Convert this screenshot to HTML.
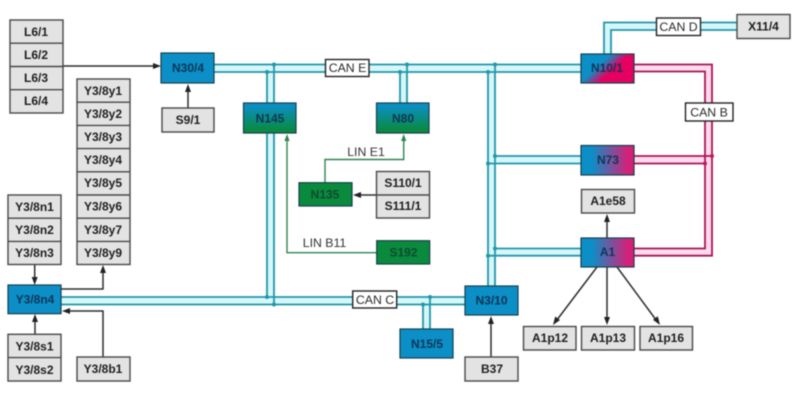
<!DOCTYPE html>
<html><head><meta charset="utf-8"><style>
html,body{margin:0;padding:0;background:#fff;width:800px;height:400px;overflow:hidden}
svg{display:block;filter:blur(0.45px)}
text{font-family:"Liberation Sans",sans-serif;text-anchor:middle;dominant-baseline:central}
.g rect{fill:#e3e3e3;stroke:#484848;stroke-width:1.4}
.g line{stroke:#484848;stroke-width:1.4}
.g text{font-size:12px;font-weight:bold;fill:#1e1e1e}
.n rect{stroke:#17404f;stroke-width:1.2}
.n text{font-size:12px;font-weight:bold;fill:#0e3558}
.l rect{fill:#fff;stroke:#222;stroke-width:1.4}
.l text{font-size:12.3px;fill:#2a2a2a}
.t{fill:none;stroke:#2296a8;stroke-width:1.8}
.p{fill:none;stroke:#a81558;stroke-width:1.8}
.gl{fill:none;stroke:#2f8450;stroke-width:1.4}
.k{fill:none;stroke:#2e2e2e;stroke-width:1.5}
.a{fill:#222}
.dt{fill:#2296a8}.dp{fill:#c8145f}
</style></head><body>
<svg width="800" height="400" viewBox="0 0 800 400" xmlns="http://www.w3.org/2000/svg">
<defs>
<linearGradient id="bg" x1="0" y1="0" x2="0" y2="1"><stop offset="0.1" stop-color="#0b8fc2"/><stop offset="0.9" stop-color="#0a8a42"/></linearGradient>
<linearGradient id="bp" x1="0" y1="0" x2="1" y2="0"><stop offset="0.2" stop-color="#0b8fc6"/><stop offset="0.9" stop-color="#d81f78"/></linearGradient>
<linearGradient id="dg" x1="0" y1="0" x2="1" y2="0.6"><stop offset="0.42" stop-color="#0b8fc6"/><stop offset="0.68" stop-color="#e6005f"/></linearGradient>
</defs>

<!-- bus fills -->
<g fill="#d6f7fa">
<rect x="214" y="64.5" width="367" height="7.5"/>
<rect x="61" y="297" width="404" height="7.5"/>
<rect x="267" y="72" width="7" height="225"/>
<rect x="400" y="72" width="7" height="31"/>
<rect x="488" y="72" width="7" height="214"/>
<rect x="495" y="156" width="86" height="7.5"/>
<rect x="495" y="248.5" width="86" height="7.5"/>
<rect x="423" y="304" width="7" height="25"/>
<rect x="604" y="22.5" width="7" height="31.5"/>
<rect x="611" y="22.5" width="126" height="7.5"/>
</g>
<g fill="#ffdcec">
<rect x="634" y="64.5" width="71" height="7"/>
<rect x="705" y="64.5" width="7" height="191"/>
<rect x="634" y="156" width="71" height="7.5"/>
<rect x="634" y="248.5" width="71" height="7.5"/>
</g>

<!-- CAN E -->
<path class="t" d="M214 64.5H581M214 72H581"/>
<!-- CAN C -->
<path class="t" d="M61 297H465M61 304.5H465"/>
<!-- verticals -->
<path class="t" d="M267 72V297M274 64.5V304.5M400 72V103M407 64.5V103M488 72V286M495 64.5V286"/>
<path class="t" d="M495 156H581M488 163.5H581M495 248.5H581M488 255.7H581"/>
<path class="t" d="M423 304.5V329M430 297V329"/>
<!-- CAN D -->
<path class="t" d="M604 54V22.5H737M611 54V30H737"/>
<!-- CAN B -->
<path class="p" d="M634 64.5H712V255.7H634M634 71.5H705V248.5H634M634 156H712M634 163.5H705"/>

<!-- dots -->
<g class="dt">
<circle cx="267" cy="72" r="2"/><circle cx="274" cy="64.5" r="2"/>
<circle cx="400" cy="72" r="2"/><circle cx="407" cy="64.5" r="2"/>
<circle cx="488" cy="72" r="2"/><circle cx="495" cy="64.5" r="2"/>
<circle cx="495" cy="156" r="2"/><circle cx="488" cy="163.5" r="2"/>
<circle cx="495" cy="248.5" r="2"/><circle cx="488" cy="255.7" r="2"/>
<circle cx="267" cy="297" r="2"/><circle cx="274" cy="304.5" r="2"/>
<circle cx="423" cy="304.5" r="2"/><circle cx="430" cy="297" r="2"/>
</g>
<g class="dp"><circle cx="712" cy="156" r="2"/><circle cx="705" cy="163.5" r="2"/></g>

<!-- green LIN -->
<path class="gl" d="M325 183V159.5H403.7V137"/>
<path class="gl" d="M376.7 252.7H287V137"/>
<path d="M403.7 134l-2.6 7h5.2z M287 134l-2.6 7h5.2z" fill="#2f8450"/>
<text x="366" y="152" font-size="12.3" fill="#333">LIN E1</text>
<text x="324.500" y="243" font-size="12.3" fill="#333">LIN B11</text>

<!-- black connectors -->
<path class="k" d="M63 66H155M188 108V90M376 195H358M34.700 264.500V279M61 289H103V271M35 334V320M103 357V311H68M491 357V322M607 238V220M607 267V319"/>
<path class="k" d="M597 267L556.500 320.500M617 267L656.500 320.500"/>
<g class="a">
<path d="M161 66l-8-3v6z"/>
<path d="M188 84l-3 8h6z"/>
<path d="M353 195l8-3v6z"/>
<path d="M34.700 285l-3-8h6z"/>
<path d="M103 265l-3 8h6z"/>
<path d="M35 314l-3 8h6z"/>
<path d="M62 311l8-3v6z"/>
<path d="M491 316l-3 8h6z"/>
<path d="M607 214l-3 8h6z"/>
<path d="M607 325l-3-8h6z"/>
<path d="M553 325l2.200-8.500 4.800 3.600z"/>
<path d="M660 325l-7-5.200 4.800-3.500z"/>
</g>

<!-- grey boxes -->
<g class="g">
<rect x="10" y="20" width="53" height="93"/>
<line x1="10" x2="63" y1="43.200" y2="43.200"/><line x1="10" x2="63" y1="66.500" y2="66.500"/><line x1="10" x2="63" y1="89.700" y2="89.700"/>
<text x="36" y="32">L6/1</text><text x="36" y="55">L6/2</text><text x="36" y="78">L6/3</text><text x="36" y="101">L6/4</text>

<rect x="77" y="79" width="53" height="185.500"/>
<line x1="77" x2="130" y1="102.200" y2="102.200"/><line x1="77" x2="130" y1="125.400" y2="125.400"/><line x1="77" x2="130" y1="148.600" y2="148.600"/><line x1="77" x2="130" y1="171.800" y2="171.800"/><line x1="77" x2="130" y1="195" y2="195"/><line x1="77" x2="130" y1="218.200" y2="218.200"/><line x1="77" x2="130" y1="241.400" y2="241.400"/>
<text x="103" y="91">Y3/8y1</text><text x="103" y="114">Y3/8y2</text><text x="103" y="137">Y3/8y3</text><text x="103" y="160">Y3/8y4</text><text x="103" y="183">Y3/8y5</text><text x="103" y="206.500">Y3/8y6</text><text x="103" y="230">Y3/8y7</text><text x="103" y="253">Y3/8y9</text>

<rect x="8" y="195" width="53" height="69.500"/>
<line x1="8" x2="61" y1="218.200" y2="218.200"/><line x1="8" x2="61" y1="241.400" y2="241.400"/>
<text x="34.500" y="207">Y3/8n1</text><text x="34.500" y="230">Y3/8n2</text><text x="34.500" y="253">Y3/8n3</text>

<rect x="8" y="334.300" width="53" height="46.700"/>
<line x1="8" x2="61" y1="357.600" y2="357.600"/>
<text x="34.500" y="346.500">Y3/8s1</text><text x="34.500" y="370">Y3/8s2</text>

<rect x="77" y="357" width="53" height="24"/><text x="103" y="369">Y3/8b1</text>
<rect x="162" y="108" width="52" height="24"/><text x="188" y="120">S9/1</text>
<rect x="376.500" y="171.500" width="53" height="46.500"/>
<line x1="376.500" x2="429.500" y1="195" y2="195"/>
<text x="403" y="183">S110/1</text><text x="403" y="206">S111/1</text>
<rect x="465" y="357" width="53" height="24"/><text x="492" y="369">B37</text>
<rect x="737" y="14.500" width="53" height="24"/><text x="763.500" y="26.500">X11/4</text>
<rect x="581.500" y="189.500" width="53" height="23.500"/><text x="608" y="201">A1e58</text>
<rect x="523.500" y="326.500" width="52.500" height="23.500"/><text x="550" y="338">A1p12</text>
<rect x="581.500" y="326.500" width="53" height="23.500"/><text x="608" y="338">A1p13</text>
<rect x="640" y="326.500" width="52.500" height="23.500"/><text x="666" y="338">A1p16</text>
</g>

<!-- nodes -->
<g class="n">
<rect x="161" y="53" width="53" height="30" fill="#0b8fc6"/><text x="188" y="68">N30/4</text>
<rect x="243.500" y="103" width="52.500" height="30" fill="url(#bg)"/><text x="270" y="118.500">N145</text>
<rect x="376.500" y="103" width="52.500" height="30" fill="url(#bg)"/><text x="403" y="118.500">N80</text>
<rect x="299" y="182.700" width="53" height="23.300" fill="#0a8a3c"/><text x="325" y="194.500" style="fill:#0d4a30">N135</text>
<rect x="376.700" y="240.700" width="53" height="23.300" fill="#0a8a3c"/><text x="403.500" y="252.500" style="fill:#0d4a30">S192</text>
<rect x="8" y="285" width="53" height="28.700" fill="#0b8fc6"/><text x="35" y="299.500">Y3/8n4</text>
<rect x="465" y="286" width="53" height="29" fill="#0b8fc6"/><text x="491.500" y="300.500">N3/10</text>
<rect x="400" y="329" width="53" height="29" fill="#0b8fc6"/><text x="427" y="344">N15/5</text>
<rect x="581" y="54" width="53" height="29" fill="url(#dg)"/><text x="607" y="68">N10/1</text>
<rect x="581" y="145.500" width="53" height="29.500" fill="url(#bp)"/><text x="608" y="160">N73</text>
<rect x="581" y="238" width="53" height="29" fill="url(#bp)"/><text x="607.500" y="252">A1</text>
</g>

<!-- labels -->
<g class="l">
<rect x="325.500" y="59.500" width="43.500" height="17"/><text x="347.500" y="68">CAN E</text>
<rect x="352.700" y="291" width="44" height="17"/><text x="375" y="300">CAN C</text>
<rect x="656.500" y="18" width="44" height="17.500"/><text x="678.500" y="27">CAN D</text>
<rect x="685.500" y="103" width="47.500" height="18"/><text x="709" y="112.500">CAN B</text>
</g>
</svg>
</body></html>
